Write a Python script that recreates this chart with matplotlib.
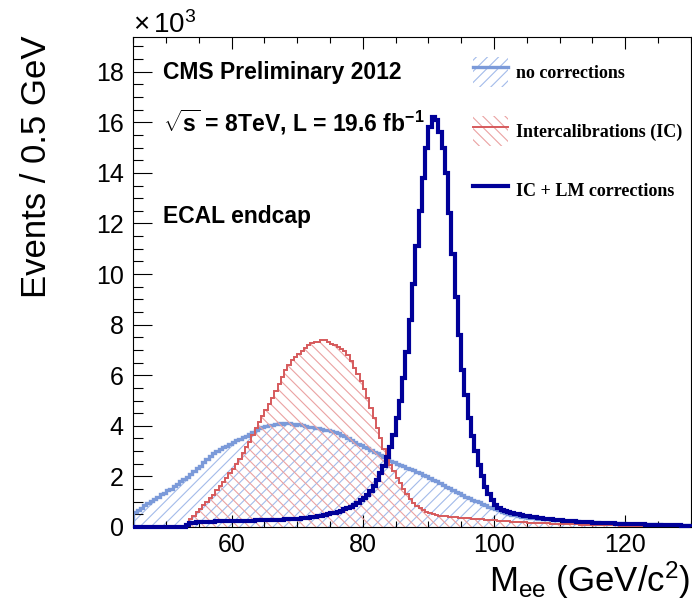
import numpy as np
import matplotlib
matplotlib.use("Agg")
import matplotlib.pyplot as plt
from matplotlib.patches import Patch
from matplotlib.lines import Line2D
from matplotlib.ticker import MultipleLocator
from matplotlib.font_manager import FontProperties

plt.rcParams["font.family"] = ["Liberation Sans", "DejaVu Sans"]
plt.rcParams["mathtext.fontset"] = "custom"
plt.rcParams["mathtext.rm"] = "Liberation Sans"
plt.rcParams["mathtext.it"] = "Liberation Sans:italic"
plt.rcParams["mathtext.bf"] = "Liberation Sans:bold"
plt.rcParams["hatch.linewidth"] = 0.8

# binning: 0.5 GeV bins from 45 to 130 GeV
bin_lo, bin_hi, bin_w = 45.0, 130.0, 0.5

# events per bin (x 10^3), one row = 5 GeV
no_corr = [
    0.60, 0.68, 0.76, 0.86, 0.95, 1.02, 1.10, 1.20, 1.30, 1.36,
    1.45, 1.52, 1.62, 1.70, 1.80, 1.90, 1.98, 2.10, 2.22, 2.32,
    2.42, 2.55, 2.68, 2.80, 2.92, 3.00, 3.08, 3.15, 3.22, 3.30,
    3.35, 3.42, 3.48, 3.55, 3.60, 3.68, 3.75, 3.82, 3.90, 3.95,
    4.00, 4.02, 4.05, 4.08, 4.10, 4.07, 4.10, 4.12, 4.08, 4.05,
    4.06, 4.02, 4.00, 3.97, 3.95, 3.92, 3.90, 3.88, 3.85, 3.82,
    3.80, 3.76, 3.72, 3.65, 3.58, 3.52, 3.45, 3.38, 3.30, 3.24,
    3.18, 3.12, 3.05, 2.98, 2.92, 2.85, 2.78, 2.70, 2.62, 2.55,
    2.50, 2.45, 2.40, 2.35, 2.30, 2.25, 2.18, 2.12, 2.05, 2.00,
    1.93, 1.87, 1.80, 1.74, 1.67, 1.60, 1.54, 1.47, 1.40, 1.33,
    1.27, 1.20, 1.14, 1.08, 1.02, 0.97, 0.92, 0.87, 0.81, 0.76,
    0.71, 0.66, 0.61, 0.57, 0.53, 0.49, 0.46, 0.43, 0.41, 0.39,
    0.37, 0.35, 0.34, 0.33, 0.32, 0.31, 0.30, 0.29, 0.28, 0.27,
    0.26, 0.25, 0.24, 0.23, 0.23, 0.22, 0.21, 0.21, 0.20, 0.19,
    0.19, 0.18, 0.17, 0.17, 0.16, 0.16, 0.15, 0.15, 0.14, 0.14,
    0.13, 0.13, 0.12, 0.12, 0.12, 0.11, 0.11, 0.10, 0.10, 0.10,
    0.10, 0.09, 0.09, 0.09, 0.09, 0.08, 0.08, 0.08, 0.08, 0.08,
]

ic = [
    0.00, 0.00, 0.00, 0.00, 0.00, 0.00, 0.00, 0.00, 0.00, 0.00,
    0.00, 0.00, 0.00, 0.00, 0.00, 0.00, 0.12, 0.30, 0.45, 0.60,
    0.72, 0.85, 1.00, 1.13, 1.28, 1.45, 1.62, 1.78, 1.95, 2.12,
    2.30, 2.50, 2.70, 2.92, 3.15, 3.38, 3.62, 3.90, 4.15, 4.40,
    4.62, 4.85, 5.10, 5.38, 5.65, 5.92, 6.20, 6.42, 6.60, 6.73,
    6.85, 6.95, 7.08, 7.18, 7.28, 7.33, 7.30, 7.38, 7.40, 7.30,
    7.22, 7.18, 7.12, 7.05, 6.95, 6.80, 6.55, 6.30, 6.05, 5.78,
    5.45, 5.10, 4.70, 4.30, 3.90, 3.50, 3.10, 2.75, 2.45, 2.20,
    1.95, 1.72, 1.50, 1.30, 1.12, 0.96, 0.84, 0.74, 0.66, 0.60,
    0.55, 0.50, 0.47, 0.45, 0.43, 0.42, 0.41, 0.40, 0.38, 0.37,
    0.36, 0.35, 0.34, 0.33, 0.32, 0.31, 0.30, 0.29, 0.28, 0.27,
    0.26, 0.25, 0.24, 0.23, 0.22, 0.21, 0.20, 0.19, 0.18, 0.18,
    0.17, 0.16, 0.16, 0.15, 0.15, 0.14, 0.14, 0.13, 0.13, 0.12,
    0.12, 0.11, 0.11, 0.10, 0.10, 0.10, 0.09, 0.09, 0.09, 0.08,
    0.08, 0.08, 0.07, 0.07, 0.07, 0.06, 0.06, 0.06, 0.05, 0.05,
    0.05, 0.04, 0.04, 0.04, 0.04, 0.03, 0.03, 0.03, 0.03, 0.03,
    0.02, 0.02, 0.02, 0.02, 0.02, 0.02, 0.02, 0.01, 0.01, 0.01,
]

ic_lm = [
    0.00, 0.00, 0.00, 0.00, 0.00, 0.00, 0.00, 0.00, 0.00, 0.00,
    0.00, 0.00, 0.00, 0.00, 0.00, 0.00, 0.08, 0.14, 0.17, 0.19,
    0.20, 0.20, 0.21, 0.21, 0.21, 0.22, 0.22, 0.22, 0.23, 0.23,
    0.23, 0.24, 0.24, 0.24, 0.25, 0.25, 0.25, 0.26, 0.26, 0.26,
    0.27, 0.27, 0.28, 0.28, 0.29, 0.29, 0.30, 0.30, 0.31, 0.32,
    0.33, 0.34, 0.35, 0.37, 0.39, 0.41, 0.43, 0.45, 0.48, 0.51,
    0.54, 0.57, 0.61, 0.65, 0.70, 0.75, 0.81, 0.88, 0.96, 1.05,
    1.15, 1.28, 1.44, 1.62, 1.85, 2.12, 2.42, 2.75, 3.15, 3.65,
    4.30, 5.00, 5.90, 6.90, 8.20, 9.60, 11.1, 12.5, 13.8, 15.0,
    15.8, 16.2, 16.1, 15.6, 15.0, 14.0, 12.4, 10.8, 9.10, 7.60,
    6.20, 5.20, 4.30, 3.60, 3.00, 2.45, 2.00, 1.60, 1.30, 1.05,
    0.88, 0.76, 0.68, 0.62, 0.58, 0.55, 0.52, 0.50, 0.47, 0.45,
    0.43, 0.41, 0.39, 0.37, 0.35, 0.33, 0.31, 0.30, 0.28, 0.27,
    0.26, 0.25, 0.24, 0.23, 0.22, 0.21, 0.20, 0.19, 0.19, 0.18,
    0.17, 0.17, 0.16, 0.15, 0.15, 0.14, 0.14, 0.13, 0.13, 0.12,
    0.12, 0.11, 0.11, 0.10, 0.10, 0.10, 0.09, 0.09, 0.08, 0.08,
    0.08, 0.07, 0.07, 0.07, 0.06, 0.06, 0.06, 0.05, 0.05, 0.05,
]

labels = ["no corrections", "Intercalibrations (IC)", "IC + LM corrections"]

c_nc, c_nc_h = "#7b9ad9", "#a3bbea"
c_ic, c_ic_h = "#d65a5c", "#eba2a2"
c_lm = "#000099"

edges = np.arange(bin_lo, bin_hi + bin_w / 2, bin_w)

fig = plt.figure(figsize=(6.92, 6.06), dpi=100)
ax = fig.add_axes([133.3 / 692, 79 / 606, 557.4 / 692, 489.7 / 606])

# no corrections
ax.stairs(no_corr, edges, fill=True, hatch="///", facecolor="none",
          edgecolor=c_nc_h, linewidth=0, zorder=1)
ax.stairs(no_corr, edges, color=c_nc, linewidth=2.4, zorder=2)
# intercalibrations
ax.stairs(ic, edges, fill=True, hatch="\\\\\\", facecolor="none",
          edgecolor=c_ic_h, linewidth=0, zorder=3)
ax.stairs(ic, edges, color=c_ic, linewidth=1.4, zorder=4)
# IC + LM
ax.stairs(ic_lm, edges, color=c_lm, linewidth=3.0, zorder=5, clip_on=False)

ax.set_xlim(bin_lo, bin_hi)
ax.set_ylim(0, 19.36)

ax.xaxis.set_major_locator(MultipleLocator(20))
ax.xaxis.set_minor_locator(MultipleLocator(5))
ax.yaxis.set_major_locator(MultipleLocator(2))
ax.yaxis.set_minor_locator(MultipleLocator(0.5))

ax.tick_params(axis="x", which="major", direction="in", length=8.6, width=0.8,
               top=True, labelsize=18, pad=4.5)
ax.tick_params(axis="x", which="minor", direction="in", length=4.3, width=0.8, top=True)
ax.tick_params(axis="y", which="major", direction="in", length=13.5, width=0.8,
               right=False, labelsize=18, pad=7)
ax.tick_params(axis="y", which="minor", direction="in", length=7, width=0.8, right=False)
for s in ax.spines.values():
    s.set_linewidth(0.8)

# axis titles
fig.text(37 / 692, 1 - 35 / 606, "Events / 0.5 GeV", rotation=90,
         ha="center", va="top", fontsize=25)
fig.text(690 / 692, 1 - 592 / 606, r"M$_{\rm ee}$ (GeV/c$^{2}$)",
         ha="right", va="baseline", fontsize=25)
fig.text(133 / 692, 1 - 33 / 606, r"$\times\,$10$^{3}$", ha="left",
         va="baseline", fontsize=20)

# labels
tx = lambda px: (px - 133.3) / 557.4
ty = lambda py: (527 - py) / 489.7
ax.text(tx(163), ty(72), "CMS Preliminary 2012", transform=ax.transAxes,
        fontsize=16.5, fontweight="bold", va="center")
ax.text(tx(163), ty(122), r"$\sqrt{\mathbf{s}}$ = 8TeV, L = 19.6 fb$^{\mathbf{-1}}$",
        transform=ax.transAxes, fontsize=16.5, fontweight="bold", va="center")
ax.text(tx(163), ty(217), "ECAL endcap", transform=ax.transAxes,
        fontsize=16.5, fontweight="bold", va="center")

# legend
h1 = (Patch(facecolor="none", edgecolor=c_nc_h, hatch="///", linewidth=0),
      Line2D([], [], color=c_nc, linewidth=2.4))
h2 = (Patch(facecolor="none", edgecolor=c_ic_h, hatch="\\\\\\", linewidth=0),
      Line2D([], [], color=c_ic, linewidth=1.4))
h3 = Line2D([], [], color=c_lm, linewidth=3.0)
ax.legend([h1, h2, h3], labels, loc="upper left",
          bbox_to_anchor=(tx(473), ty(57)), frameon=False, borderpad=0,
          borderaxespad=0, handlelength=1.94, handleheight=2.2,
          handletextpad=0.45, labelspacing=1.6,
          prop=FontProperties(family="Liberation Serif", weight="bold", size=13))

fig.savefig("out.png", dpi=100)
